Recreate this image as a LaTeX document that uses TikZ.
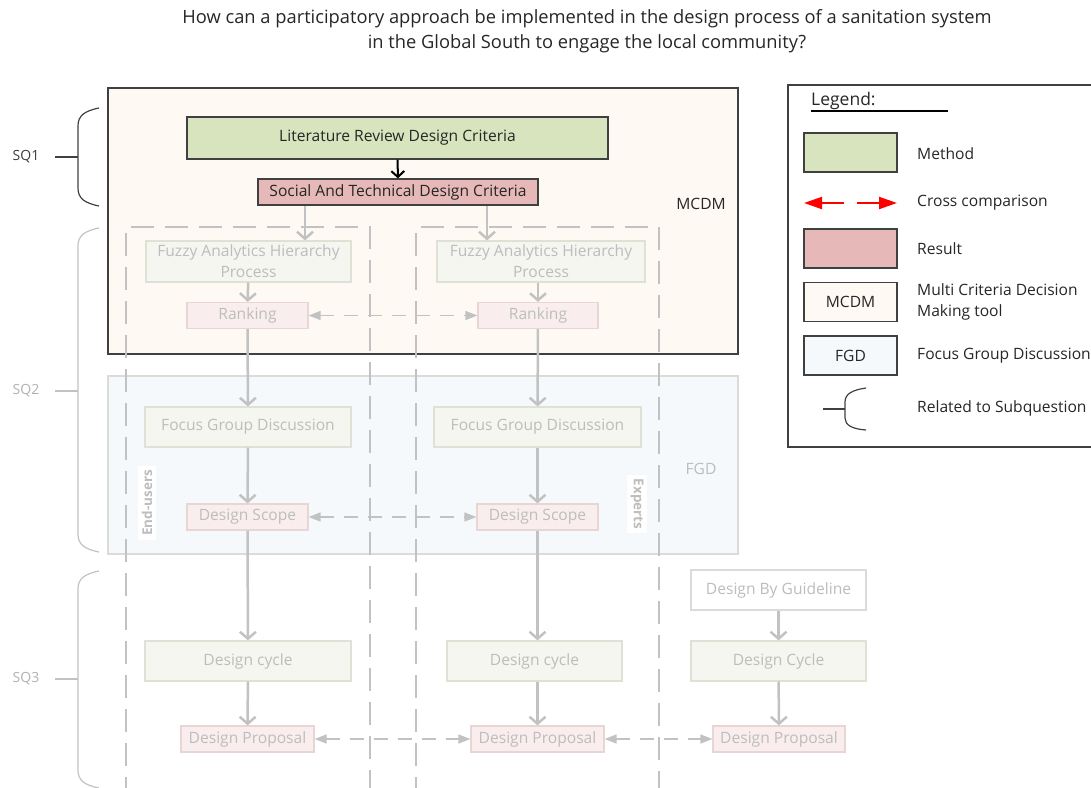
\documentclass[tikz,border=0pt]{standalone}
\usepackage{fontspec}
\setmainfont{Open Sans}
\usetikzlibrary{arrows.meta}
\definecolor{mcdmfill}{HTML}{FEFAF3}
\definecolor{fgdfill}{HTML}{F5F9FC}
\definecolor{methfill}{HTML}{D7E4BD}
\definecolor{resfill}{HTML}{E6B9B8}
\definecolor{fadetext}{HTML}{BDBDBD}
\definecolor{fadeline}{HTML}{C2C2C2}
\definecolor{fadegreen}{HTML}{F4F6EF}
\definecolor{fadegreenb}{HTML}{DDE2D5}
\definecolor{fadepink}{HTML}{F9EEED}
\definecolor{fadepinkb}{HTML}{E8D6D5}
\definecolor{darkline}{HTML}{404040}
\definecolor{txt}{HTML}{262626}

\begin{document}
\begin{tikzpicture}[x=1pt, y=-1pt,
    font=\fontsize{15.6}{21}\selectfont, text=txt,
    meth/.style={draw=darkline, fill=methfill, line width=1.2, minimum height=42, inner sep=0},
    res/.style={draw=darkline, fill=resfill, line width=1.2, minimum height=26, inner sep=0},
    fmeth/.style={draw=fadegreenb, fill=fadegreen, line width=1.2, text=fadetext, minimum width=#1, minimum height=41, inner sep=0, align=center},
    fres/.style={draw=fadepinkb, fill=fadepink, line width=1.2, text=fadetext, minimum width=#1, minimum height=26, inner sep=0},
    flow/.style={draw=fadeline, line width=2.5, -{Straight Barb[length=7,width=16]}},
    cmp/.style={draw=fadeline, line width=1.5, dash pattern=on 14 off 10, {Triangle[length=12,width=9]}-{Triangle[length=12,width=9]}},
    lane/.style={draw=fadeline, line width=1.8, dash pattern=on 23 off 11},
    lanelbl/.style={fill=white, text=fadetext, font=\fontsize{13.5}{16}\selectfont\bfseries, inner sep=4},
    legbox/.style={draw=darkline, line width=1.2, minimum width=93, minimum height=39, inner sep=0},
    legtxt/.style={anchor=west, align=left, inner sep=0}
  ]
  \useasboundingbox (0,0) rectangle (1091,787);

  % research question
  \node[font=\fontsize{18.3}{25}\selectfont, align=center] (rq) at (587,31)
    {How can a participatory approach be implemented in the design process of a sanitation system\\in the Global South to engage the local community?};

  % tool areas
  \node[draw=darkline, fill=mcdmfill, line width=1.2, minimum width=630, minimum height=266, inner sep=0] (mcdm) at (423,221) {};
  \node (mcdmlbl) at (701,204) {MCDM};
  \node[draw=fadegreenb!70!gray!60, fill=fgdfill, line width=1.2, minimum width=630, minimum height=178, inner sep=0] (fgd) at (423,465) {};
  \node[text=fadetext] (fgdlbl) at (701,469) {FGD};

  % swimlanes
  \draw[lane] (126,800) -- (126,227) -- (370,227) -- (370,800);
  \draw[lane] (416,800) -- (416,227) -- (659,227) -- (659,800);
  \node[lanelbl, rotate=90] (eu) at (147,503) {End-users};
  \node[lanelbl, rotate=-90] (ex) at (637,504) {Experts};

  % subquestion braces
  \foreach \a/\b/\m/\n/\c in {108/206/157/1/darkline, 228/552/391/2/fadeline, 571/788/679/3/fadeline} {
    \node[text=\c!90!txt, font=\fontsize{14}{16}\selectfont] (sq\n) at (26,\m) {SQ\n};
    \coordinate (tip\n) at (78,\m);
    \draw[\c, line width=1.2] (99,\a) .. controls (84,\a+3) and (78,\a+8) .. (78,\a+18)
      -- (78,\b-18) .. controls (78,\b-8) and (84,\b-3) .. (99,\b);
    \draw[\c, line width=1.2, shorten <=12] (sq\n) -- (tip\n);
  }

  % SQ1
  \node[meth, minimum width=421] (lit) at (397.5,138) {Literature Review Design Criteria};
  \node[res, minimum width=280] (social) at (398,192) {Social And Technical Design Criteria};
  \draw[line width=2, -{Straight Barb[length=6,width=13]}] (lit.south) -- (social.north);

  % end-users lane
  \node[fmeth=205] (fahpL) at (248.5,261.5) {Fuzzy Analytics Hierarchy\\Process};
  \node[fres=121] (rankL) at (247.5,315.5) {Ranking};
  \node[fmeth=206, minimum height=40] (fgdL) at (248,427) {Focus Group Discussion};
  \node[fres=121] (scopeL) at (247.5,517) {Design Scope};
  \node[fmeth=206, minimum height=40] (cycL) at (248,661) {Design cycle};
  \node[fres=133] (propL) at (247.5,739) {Design Proposal};

  % experts lane
  \node[fmeth=208] (fahpR) at (541,261.5) {Fuzzy Analytics Hierarchy\\Process};
  \node[fres=120] (rankR) at (538,315.5) {Ranking};
  \node[fmeth=207, minimum height=40] (fgdR) at (537.5,427) {Focus Group Discussion};
  \node[fres=121] (scopeR) at (537.5,517) {Design Scope};
  \node[fmeth=175, minimum height=40] (cycR) at (534.5,661) {Design cycle};
  \node[fres=133] (propR) at (537.5,739) {Design Proposal};

  % guideline column
  \node[fmeth=175, fill=white, draw=fadeline!60, minimum height=40] (guide) at (778.5,590) {Design By Guideline};
  \node[fmeth=175, minimum height=40] (cycG) at (778.5,661) {Design Cycle};
  \node[fres=132] (propG) at (779,739) {Design Proposal};

  % flow
  \draw[flow] ([xshift=-93]social.south) -- ([xshift=-93]social.south |- fahpL.north);
  \draw[flow] ([xshift=89]social.south) -- ([xshift=89]social.south |- fahpR.north);
  \draw[flow] (fahpL) -- (rankL);
  \draw[flow] (rankL) -- (fgdL);
  \draw[flow] (fgdL) -- (scopeL);
  \draw[flow] (scopeL) -- (cycL);
  \draw[flow] (cycL) -- (propL);
  \draw[flow] (fahpR.south -| rankR) -- (rankR);
  \draw[flow] (rankR) -- (fgdR);
  \draw[flow] (fgdR) -- (scopeR);
  \draw[flow] (scopeR.south) -- (scopeR.south |- cycR.north);
  \draw[flow] (cycR.south -| propR) -- (propR);
  \draw[flow] (guide) -- (cycG);
  \draw[flow] (cycG) -- (propG);

  % cross comparison
  \draw[cmp] (rankL) -- (rankR);
  \draw[cmp] (scopeL) -- (scopeR);
  \draw[cmp] (propL) -- (propR);
  \draw[cmp] (propR) -- (propG);

  % legend
  \node[draw=darkline, line width=1.2, minimum width=320, minimum height=362, inner sep=0] (leg) at (948,266) {};
  \node[legtxt, font=\fontsize{17.5}{20}\selectfont] (legt) at (811,101) {Legend:};
  \draw[line width=1.2] ([yshift=-1]legt.south west) -- ([xshift=137,yshift=-1]legt.south west);
  \node[legbox, fill=methfill] (lm) at (850.5,152.5) {};
  \node[legtxt] at (917,154) {Method};
  \coordinate (cl) at (804,203);
  \coordinate (cr) at (897,203);
  \draw[red, line width=2, dash pattern=on 22 off 13, {Triangle[length=18,width=12]}-{Triangle[length=18,width=12]}] (cl) -- (cr);
  \node[legtxt] at (917,203) {Cross comparison};
  \node[legbox, fill=resfill] (lr) at (850.5,248.5) {};
  \node[legtxt] at (917,249) {Result};
  \node[legbox, fill=mcdmfill] (lt) at (850.5,302) {MCDM};
  \node[legtxt] at (917,302) {Multi Criteria Decision\\Making tool};
  \node[legbox, fill=fgdfill] (lf) at (850.5,355.5) {FGD};
  \node[legtxt] at (917,356) {Focus Group Discussion};
  \coordinate (lbt) at (845,409);
  \coordinate (lbs) at (823,409);
  \draw[darkline, line width=1.2] (866,388) .. controls (852,390) and (845,394) .. (845,402)
    -- (845,418) .. controls (845,425) and (852,429) .. (866,430);
  \draw[darkline, line width=1.2] (lbs) -- (lbt);
  \node[legtxt] at (917,408) {Related to Subquestion};
\end{tikzpicture}
\end{document}
